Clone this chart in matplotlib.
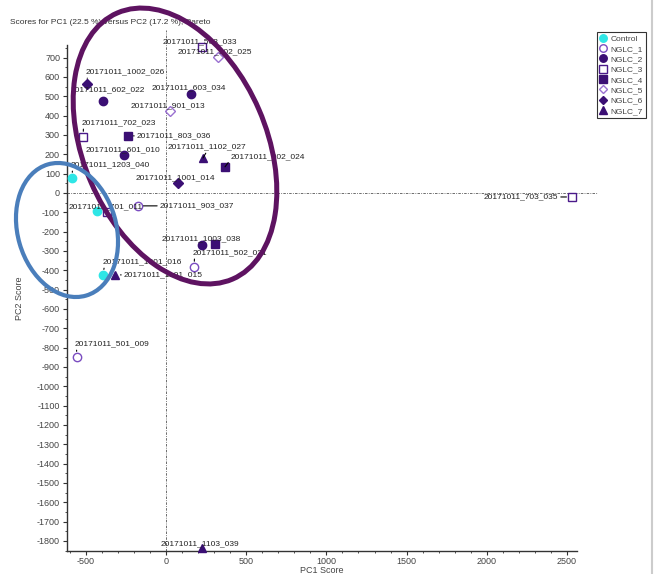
import numpy as np
import matplotlib
matplotlib.use('Agg')
import matplotlib.pyplot as plt
from matplotlib.patches import Ellipse
from matplotlib.lines import Line2D
from matplotlib.ticker import MultipleLocator

plt.rcParams.update({
    'font.family': 'Liberation Sans',
    'font.size': 6,
    'axes.linewidth': 1.0,
    'axes.unicode_minus': False,
    'xtick.color': '#333333',
    'ytick.color': '#333333',
    'xtick.labelcolor': '#444444',
    'ytick.labelcolor': '#444444',
})

# scores
samples = ['20171011_1002_026', '20171011_602_022', '20171011_603_034', '20171011_901_013',
           '20171011_503_033', '20171011_902_025', '20171011_702_023', '20171011_803_036',
           '20171011_601_010', '20171011_1102_027', '20171011_802_024', '20171011_1001_014',
           '20171011_1203_040', '20171011_701_011', '20171011_801_012', '20171011_903_037',
           '20171011_1003_038', '20171011_1202_028', '20171011_502_021', '20171011_1201_016',
           '20171011_1101_015', '20171011_501_009', '20171011_1103_039', '20171011_703_035']
groups = ['NGLC_6', 'NGLC_2', 'NGLC_2', 'NGLC_5', 'NGLC_3', 'NGLC_5', 'NGLC_3', 'NGLC_4',
          'NGLC_2', 'NGLC_7', 'NGLC_4', 'NGLC_6', 'Control', 'Control', 'NGLC_3', 'NGLC_1',
          'NGLC_2', 'NGLC_4', 'NGLC_1', 'Control', 'NGLC_7', 'NGLC_1', 'NGLC_7', 'NGLC_3']
pc1 = [-493, -393, 156, 25, 224, 324, -517, -237, -262, 231, 368, 75,
       -586, -430, -368, -175, 224, 305, 175, -393, -318, -555, 224, 2531]
pc2 = [564, 476, 512, 424, 755, 704, 290, 295, 197, 181, 135, 52,
       78, -93, -98, -67, -269, -264, -382, -424, -424, -848, -1837, -21]

group_names = ['Control', 'NGLC_1', 'NGLC_2', 'NGLC_3', 'NGLC_4', 'NGLC_5', 'NGLC_6', 'NGLC_7']

# marker style per group: (marker, face, edge)
DARK = '#3b0f74'
estilo = {
    'Control': ('o', '#2ee6e6', '#2ee6e6'),
    'NGLC_1':  ('o', 'none', '#7a4cc0'),
    'NGLC_2':  ('o', DARK, DARK),
    'NGLC_3':  ('s', 'none', '#4b1a8a'),
    'NGLC_4':  ('s', DARK, DARK),
    'NGLC_5':  ('D', 'none', '#9a70d0'),
    'NGLC_6':  ('D', DARK, DARK),
    'NGLC_7':  ('^', DARK, DARK),
}

# label offsets in pixels (text left edge, centre) and leader relpos
rotulos = {
    '20171011_1002_026': (-1, 12, (0.02, 0)),
    '20171011_602_022':  (-32, 11, None),
    '20171011_603_034':  (-39, 6, None),
    '20171011_901_013':  (-39, 5, None),
    '20171011_503_033':  (-39, 5, None),
    '20171011_902_025':  (-40, 5, None),
    '20171011_702_023':  (-1, 14, (0.02, 0)),
    '20171011_803_036':  (9, 0, (0, 0.5)),
    '20171011_601_010':  (-38, 5, None),
    '20171011_1102_027': (-35, 11, (0.5, 0)),
    '20171011_802_024':  (6, 10, (0, 0.2)),
    '20171011_1001_014': (-42, 5, None),
    '20171011_1203_040': (-1, 13, (0.02, 0)),
    '20171011_701_011':  (-28, 4, None),
    '20171011_903_037':  (22, 0, (0, 0.5)),
    '20171011_1003_038': (-40, 6, None),
    '20171011_502_021':  (-1, 14, (0.02, 0)),
    '20171011_1201_016': (0, 13, (0.02, 0)),
    '20171011_1101_015': (9, 0, (0, 0.5)),
    '20171011_501_009':  (-2, 13, (0.02, 0)),
    '20171011_1103_039': (-41, 4, None),
    '20171011_703_035':  (-14, 0, (1, 0.5)),
}

W, H = 658, 574
fig = plt.figure(figsize=(W / 100, H / 100), dpi=100)
fig.patch.set_facecolor('white')
ax = fig.add_axes([67 / W, 1 - 551 / H, 510 / W, 506 / H])

ax.set_xlim(-617, 2562)
ax.set_ylim(-1852, 765)

for g in group_names:
    m, fc, ec = estilo[g]
    xs = [x for x, gg in zip(pc1, groups) if gg == g]
    ys = [y for y, gg in zip(pc2, groups) if gg == g]
    ax.plot(xs, ys, linestyle='none', marker=m, markersize=6 if m != 'D' else 5,
            markerfacecolor=fc, markeredgecolor=ec, markeredgewidth=1.0,
            label=g, zorder=3, clip_on=False)

for nome, x, y in zip(samples, pc1, pc2):
    if nome not in rotulos:
        continue
    dx, dy, rel = rotulos[nome]
    ha = 'right' if rel is not None and rel[0] == 1 else 'left'
    kw = {}
    if rel is not None:
        kw['arrowprops'] = dict(arrowstyle='-', color='black', lw=0.8,
                                shrinkA=0, shrinkB=4, relpos=rel)
    ax.annotate(nome, xy=(x, y), xytext=(dx, dy), textcoords='offset pixels',
                ha=ha, va='center', fontsize=6, color='#222222', zorder=4,
                annotation_clip=False, **kw)

ax.axhline(0, xmin=0, xmax=1.04, color='#555555', lw=0.6, ls=(0, (3, 1.5, 1, 1.5)),
           clip_on=False, zorder=1)
ax.axvline(0, ymin=0, ymax=1.03, color='#555555', lw=0.6, ls=(0, (3, 1.5, 1, 1.5)),
           clip_on=False, zorder=1)

ax.spines['top'].set_visible(False)
ax.spines['right'].set_visible(False)
ax.spines['left'].set_color('#333333')
ax.spines['bottom'].set_color('#333333')

ax.xaxis.set_major_locator(MultipleLocator(500))
ax.xaxis.set_minor_locator(MultipleLocator(100))
ax.yaxis.set_major_locator(MultipleLocator(100))
ax.yaxis.set_minor_locator(MultipleLocator(50))
ax.set_yticks(np.arange(-1800, 701, 100))
ax.tick_params(axis='both', which='major', length=3, width=0.8, labelsize=6.5, pad=2)
ax.tick_params(axis='x', which='major', pad=1)
ax.tick_params(axis='both', which='minor', length=1.5, width=0.6)

ax.set_xlabel('PC1 Score', fontsize=6.5, color='#444444', labelpad=0.5)
ax.set_ylabel('PC2 Score', fontsize=6.5, color='#444444', labelpad=9)

fig.text(10 / W, 1 - 23 / H, 'Scores for PC1 (22.5 %) versus PC2 (17.2 %), Pareto',
         fontsize=6, color='#333333', ha='left', va='center')

leg = fig.legend(loc='upper left', bbox_to_anchor=(597 / W, 1 - 32 / H), fontsize=6,
                 frameon=True, fancybox=False, edgecolor='black', borderpad=0.35,
                 labelspacing=0.3, handlelength=0.8, handletextpad=0.5,
                 borderaxespad=0, markerscale=0.9)
leg.get_frame().set_linewidth(0.8)
for t in leg.get_texts():
    t.set_color('#444444')

# hand-drawn ellipses (pixel geometry)
fig.add_artist(Ellipse((175 / 100, (H - 146) / 100), 2.9, 1.83, angle=-66.6,
                       fill=False, edgecolor='#5e1361', lw=3.6,
                       transform=fig.dpi_scale_trans, zorder=10))
fig.add_artist(Ellipse((67 / 100, (H - 230) / 100), 1.366, 0.986, angle=-73.8,
                       fill=False, edgecolor='#4a7ebb', lw=3.0,
                       transform=fig.dpi_scale_trans, zorder=10))

fig.add_artist(Line2D([652 / W, 652 / W], [0, 1], color='#cccccc', lw=1.5,
                      transform=fig.transFigure))

plt.savefig('out.png', dpi=100)
